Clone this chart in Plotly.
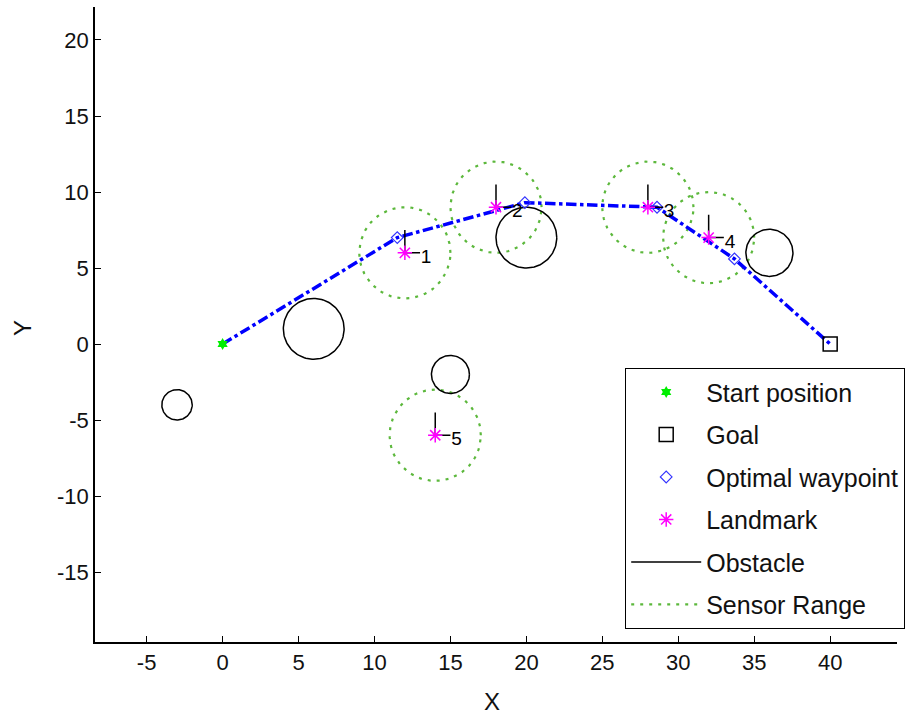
import numpy as np
import plotly.graph_objects as go

# ---- data ----
start_xy = (0, 0)
goal_xy = (40, 0)
waypoint_x = [11.5, 19.9, 28.6, 33.7]
waypoint_y = [7.0, 9.3, 9.0, 5.6]
path_x = [0, 11.5, 19.9, 28.6, 33.7, 40]
path_y = [0, 7.0, 9.3, 9.0, 5.6, 0]
landmark_x = [12, 18, 28, 32, 14]
landmark_y = [6, 9, 9, 7, -6]
landmark_labels = ["1", "2", "3", "4", "5"]
sensor_range = 3
obstacle_x = [-3, 6, 15, 20, 36]
obstacle_y = [-4, 1, -2, 7, 6]
obstacle_r = [1.0, 2.0, 1.25, 2.0, 1.55]
x_ticks = [-5, 0, 5, 10, 15, 20, 25, 30, 35, 40]
x_tick_text = ["-5", "0", "5", "10", "15", "20", "25", "30", "35", "40"]
y_ticks = [-15, -10, -5, 0, 5, 10, 15, 20]
y_tick_text = ["-15", "-10", "-5", "0", "5", "10", "15", "20"]

FONT = "Liberation Sans, Arial, sans-serif"
GREEN_DOT = "#5cb83c"
theta = np.linspace(0, 2 * np.pi, 121)


def circle_xy(cx, cy, r):
    xs = list(cx + r * np.cos(theta)) + [None]
    ys = list(cy + r * np.sin(theta)) + [None]
    return xs, ys


fig = go.Figure()

start_trace = go.Scatter(x=[start_xy[0]], y=[start_xy[1]], mode="markers",
                         name="Start position",
                         marker=dict(symbol="hexagram", color="#00ee00", size=9),
                         legendrank=1, legendgroup="g1")
goal_trace = go.Scatter(x=[goal_xy[0]], y=[goal_xy[1]], mode="markers", name="Goal",
                        marker=dict(symbol="square-open", color="black", size=14,
                                    line=dict(width=1.5)),
                        legendrank=2, legendgroup="g2")

# sensor ranges
sx, sy = [], []
for cx, cy in zip(landmark_x, landmark_y):
    a, b = circle_xy(cx, cy, sensor_range)
    sx += a
    sy += b
fig.add_trace(go.Scatter(x=sx, y=sy, mode="lines", name="Sensor Range",
                         line=dict(color=GREEN_DOT, width=2.2, dash="3px,6px"),
                         legendrank=6, legendgroup="g6"))

# obstacles
ox, oy = [], []
for cx, cy, r in zip(obstacle_x, obstacle_y, obstacle_r):
    a, b = circle_xy(cx, cy, r)
    ox += a
    oy += b
fig.add_trace(go.Scatter(x=ox, y=oy, mode="lines", name="Obstacle",
                         line=dict(color="black", width=1.5),
                         legendrank=5, legendgroup="g5"))

# path
fig.add_trace(go.Scatter(x=path_x, y=path_y, mode="lines", showlegend=False,
                         line=dict(color="#0000ff", width=3.5, dash="dashdot")))

# waypoints
fig.add_trace(go.Scatter(x=waypoint_x, y=waypoint_y, mode="markers",
                         name="Optimal waypoint",
                         marker=dict(symbol="diamond-open", color="#3333ff", size=9,
                                     line=dict(width=1.2)),
                         legendrank=3, legendgroup="g3"))

# landmark orientation ticks
LV, LH = 1.5, 1.0
tx, ty = [], []
for lx, ly in zip(landmark_x, landmark_y):
    tx += [lx, lx, lx + LH, None]
    ty += [ly + LV, ly, ly, None]
fig.add_trace(go.Scatter(x=tx, y=ty, mode="lines", showlegend=False,
                         line=dict(color="black", width=1.5)))

# landmarks
fig.add_trace(go.Scatter(x=landmark_x, y=landmark_y, mode="markers", name="Landmark",
                         marker=dict(symbol="asterisk-open", color="#ff00ff", size=12,
                                     line=dict(color="#ff00ff", width=1.5)),
                         legendrank=4, legendgroup="g4"))

# landmark labels
fig.add_trace(go.Scatter(x=[x + 1.4 for x in landmark_x],
                         y=[y - 0.35 for y in landmark_y],
                         mode="text", text=landmark_labels, showlegend=False,
                         textfont=dict(family=FONT, size=19, color="black")))

fig.add_trace(start_trace)
fig.add_trace(goal_trace)

axis_common = dict(showgrid=False, zeroline=False, showline=True, linecolor="black",
                   linewidth=1.5, ticks="inside", ticklen=6, tickcolor="black",
                   tickwidth=1.2, mirror=False, automargin=False,
                   tickfont=dict(family=FONT, size=22, color="#111"))

fig.update_layout(
    width=909, height=717,
    margin=dict(l=95, r=12, t=7, b=75, autoexpand=False),
    paper_bgcolor="white", plot_bgcolor="white",
    font=dict(family=FONT, color="black"),
    xaxis=dict(range=[-8.4, 44.4], tickvals=x_ticks, ticktext=x_tick_text,
               **axis_common),
    yaxis=dict(range=[-19.6, 22.17], tickvals=y_ticks, ticktext=y_tick_text,
               **axis_common),
    legend=dict(xref="container", yref="container",
                x=625 / 909, y=1 - 368 / 717, xanchor="left", yanchor="top",
                bordercolor="black", borderwidth=1.2, bgcolor="white",
                font=dict(family=FONT, size=25, color="#111"),
                itemwidth=70, tracegroupgap=7, traceorder="grouped"),
    showlegend=True,
    annotations=[
        dict(text="X", xref="paper", yref="paper", x=(492 - 95) / 802, y=-(701 - 642) / 635,
             xanchor="center", yanchor="middle", showarrow=False,
             font=dict(family=FONT, size=24, color="#111")),
        dict(text="Y", xref="paper", yref="paper", x=-(95 - 22) / 802, y=(642 - 328) / 635,
             xanchor="center", yanchor="middle", showarrow=False, textangle=-90,
             font=dict(family=FONT, size=24, color="#111")),
    ],
)

fig.write_html("out.html")
